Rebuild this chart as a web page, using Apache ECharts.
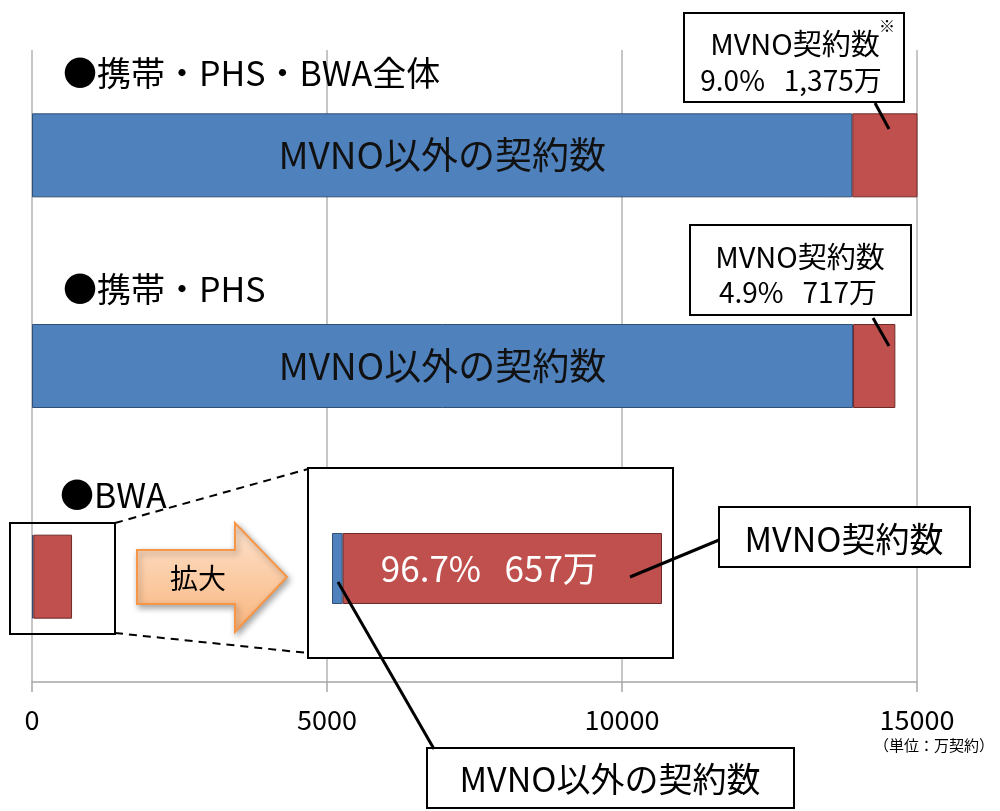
<!DOCTYPE html>
<html>
<head>
<meta charset="utf-8">
<script src="https://cdn.jsdelivr.net/npm/echarts@6/dist/echarts.min.js"></script>
<style>
html, body { margin: 0; padding: 0; background: #fff; }
#chart { width: 1000px; height: 811px; }
</style>
</head>
<body>
<div id="chart"></div>
<script>
// Contract counts (unit: 10,000 contracts)
const categories = ['携帯・PHS・BWA全体', '携帯・PHS', 'BWA'];
const otherCounts = [13903, 13916, 22];   // MVNO以外の契約数
const mvnoCounts = [1375, 717, 657];      // MVNO契約数
const mvnoShares = ['9.0%', '4.9%', '96.7%'];
const axisTicks = [0, 5000, 10000, 15000];
const unitLabel = '（単位：万契約）';

const FONT = '"Noto Sans CJK JP", "Noto Sans", sans-serif';
const BLUE = '#4f81bd';
const RED = '#c0504d';

const bwa = categories.length - 1;
const bwaTotal = otherCounts[bwa] + mvnoCounts[bwa];

const chart = echarts.init(document.getElementById('chart'), null, { renderer: 'canvas' });

function txt(x, y, text, size, align, z) {
  return {
    type: 'text', x: x, y: y, z: z || 10,
    style: { text: text, font: size + 'px ' + FONT, fill: '#000', align: align || 'center', verticalAlign: 'middle' }
  };
}
function box(x, y, w, h, z) {
  return { type: 'rect', z: z || 10, shape: { x: x, y: y, width: w, height: h },
    style: { fill: '#fff', stroke: '#000', lineWidth: 2 } };
}
function lead(x1, y1, x2, y2) {
  return { type: 'line', z: 11, shape: { x1: x1, y1: y1, x2: x2, y2: y2 },
    style: { stroke: '#000', lineWidth: 3 } };
}
function dashed(x1, y1, x2, y2) {
  return { type: 'line', z: 11, shape: { x1: x1, y1: y1, x2: x2, y2: y2 },
    style: { stroke: '#000', lineWidth: 2, lineDash: [8, 6] } };
}

const option = {
  animation: false,
  backgroundColor: '#fff',
  textStyle: { fontFamily: FONT },
  grid: [
    { left: 32, right: 83, top: 50, bottom: 129 },
    { left: 332, width: 330, top: 533, height: 71 }
  ],
  xAxis: [
    {
      type: 'value', gridIndex: 0,
      min: axisTicks[0], max: axisTicks[axisTicks.length - 1],
      interval: axisTicks[1] - axisTicks[0],
      axisLine: { show: true, lineStyle: { color: '#a6a6a6', width: 1.5 } },
      axisTick: { show: true, length: 10, lineStyle: { color: '#a6a6a6', width: 1.5 } },
      splitLine: { show: true, lineStyle: { color: '#b3b3b3', width: 1.5 } },
      axisLabel: { margin: 24, fontSize: 27, color: '#000', fontFamily: FONT, formatter: v => String(v) }
    },
    {
      type: 'value', gridIndex: 1, min: 0, max: bwaTotal, show: false
    }
  ],
  yAxis: [
    { type: 'category', gridIndex: 0, data: categories, inverse: true, show: false },
    { type: 'category', gridIndex: 1, data: [categories[bwa]], show: false }
  ],
  series: [
    {
      name: 'MVNO以外の契約数', type: 'bar', stack: 'all', barWidth: 84,
      xAxisIndex: 0, yAxisIndex: 0,
      data: otherCounts,
      itemStyle: { color: BLUE, borderColor: '#2f4f77', borderWidth: 1 },
      label: {
        show: true, position: 'inside', fontSize: 37, color: '#111', fontFamily: FONT,
        formatter: p => (p.dataIndex === bwa ? '' : 'MVNO以外の契約数')
      }
    },
    {
      name: 'MVNO契約数', type: 'bar', stack: 'all', barWidth: 84,
      xAxisIndex: 0, yAxisIndex: 0,
      data: mvnoCounts,
      itemStyle: { color: RED, borderColor: '#6e2a28', borderWidth: 1 }
    },
    {
      name: 'MVNO以外の契約数(BWA)', type: 'bar', stack: 'inset', barWidth: 71,
      xAxisIndex: 1, yAxisIndex: 1,
      data: [otherCounts[bwa]],
      itemStyle: { color: BLUE, borderColor: '#2f4f77', borderWidth: 1 }
    },
    {
      name: 'MVNO契約数(BWA)', type: 'bar', stack: 'inset', barWidth: 71,
      xAxisIndex: 1, yAxisIndex: 1,
      data: [mvnoCounts[bwa]],
      itemStyle: { color: RED, borderColor: '#6e2a28', borderWidth: 1 },
      label: {
        show: true, position: 'inside', offset: [-13, 0], fontSize: 35, color: '#fff', fontFamily: FONT,
        formatter: () => mvnoShares[bwa] + '   ' + mvnoCounts[bwa] + '万'
      }
    }
  ],
  graphic: [
    // section headings
    txt(63, 73, '●' + categories[0], 34, 'left'),
    txt(63, 289, '●' + categories[1], 34, 'left'),
    txt(60, 495, '●' + categories[2], 34, 'left'),

    // callout: total
    box(684, 13, 220, 89),
    lead(875, 103, 889, 129),
    txt(795, 44, 'MVNO契約数', 29),
    txt(791, 80, mvnoShares[0] + '   ' + mvnoCounts[0].toLocaleString('en-US') + '万', 28),
    txt(887, 26, '※', 16),

    // callout: 携帯・PHS
    box(690, 225, 221, 90),
    lead(873, 318, 889, 346),
    txt(800, 257, 'MVNO契約数', 29),
    txt(798, 292, mvnoShares[1] + '   ' + mvnoCounts[1] + '万', 28),

    // frame around the small BWA bar, with guide lines to the enlarged view
    { type: 'rect', z: 11, shape: { x: 10, y: 523, width: 105, height: 111 },
      style: { fill: 'none', stroke: '#000', lineWidth: 2 } },
    dashed(115, 523, 308, 469),
    dashed(115, 633, 308, 653),
    box(308, 468, 365, 190, 1),

    // arrow
    {
      type: 'polygon', z: 11,
      shape: { points: [[137, 550], [235, 550], [235, 523], [287, 577], [235, 632], [235, 604], [137, 604]] },
      style: {
        fill: new echarts.graphic.LinearGradient(0, 0, 0, 1, [
          { offset: 0, color: '#fde4cf' },
          { offset: 1, color: '#f9b47c' }
        ]),
        stroke: '#f79646', lineWidth: 2,
        shadowBlur: 6, shadowOffsetX: 2, shadowOffsetY: 3, shadowColor: 'rgba(0,0,0,0.35)'
      }
    },
    txt(198, 578, '拡大', 28, 'center', 12),

    // callout: BWA MVNO
    box(719, 507, 251, 60),
    lead(719, 540, 630, 577),
    txt(844, 539, 'MVNO契約数', 34),

    // callout: BWA non-MVNO
    lead(338, 582, 434, 749),
    box(427, 748, 367, 60),
    txt(610, 779, 'MVNO以外の契約数', 34),

    // unit
    txt(934, 745, unitLabel, 15)
  ]
};

chart.setOption(option);
</script>
</body>
</html>
